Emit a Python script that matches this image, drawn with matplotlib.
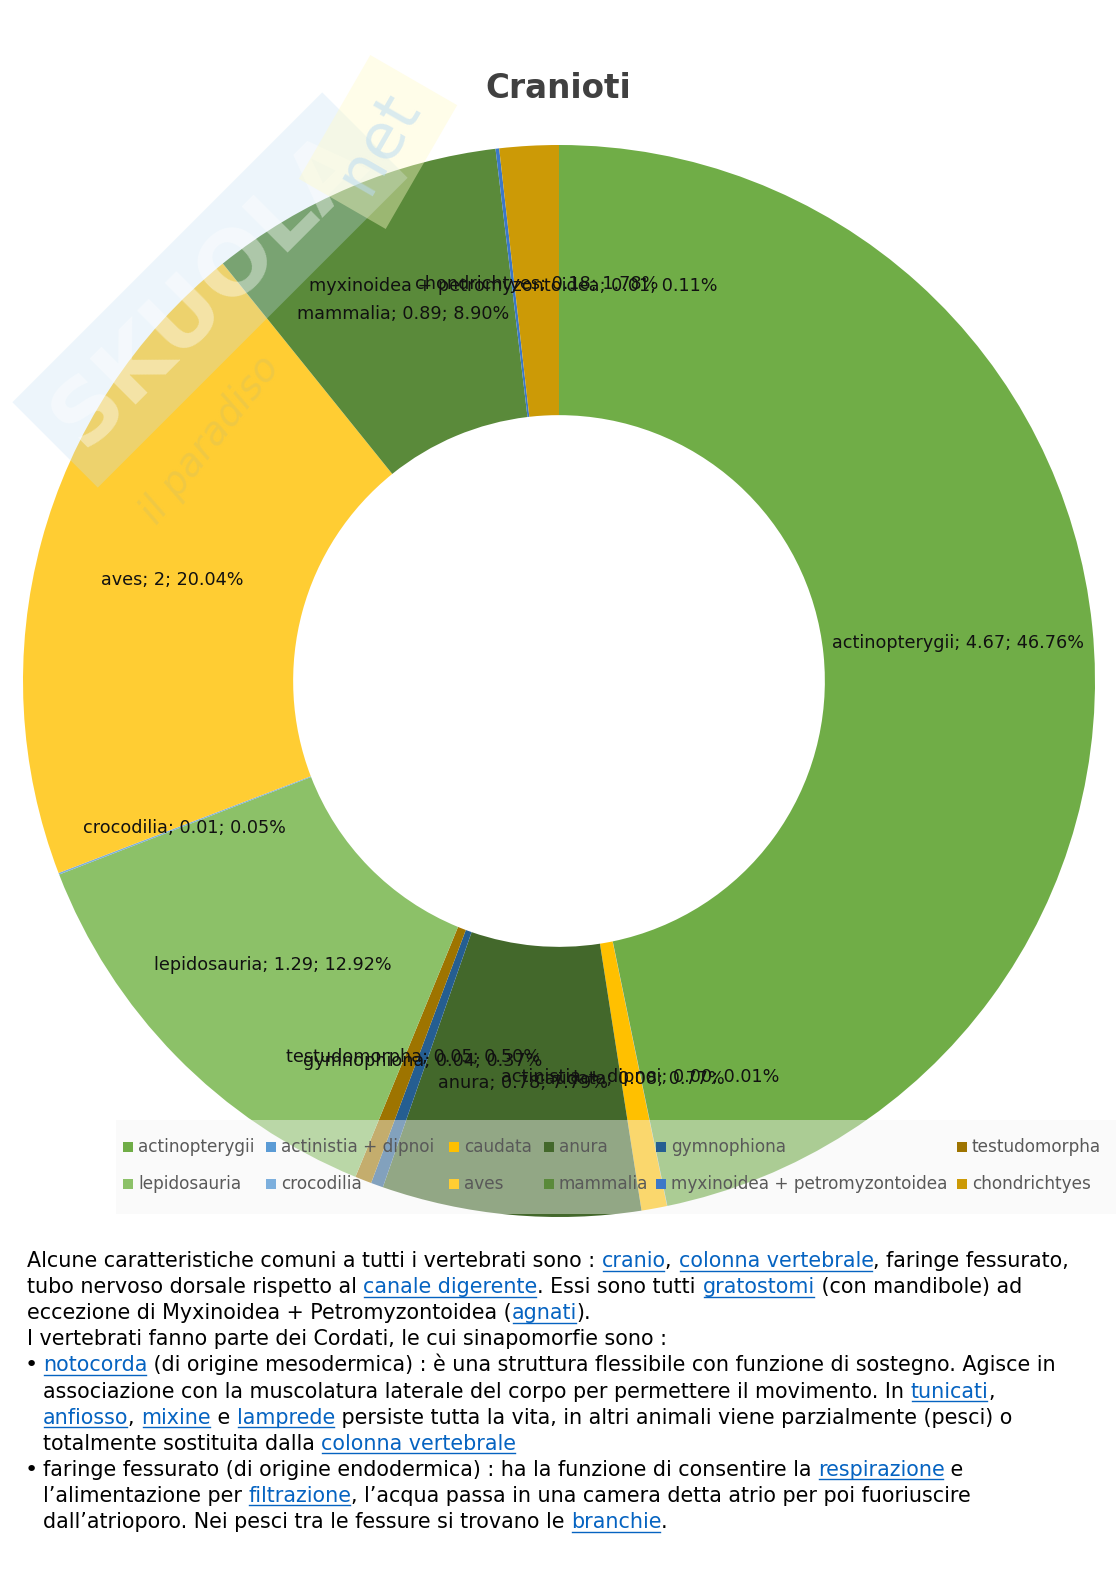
import re
import matplotlib
matplotlib.use("Agg")
import matplotlib.pyplot as plt
from matplotlib.patches import Rectangle
from matplotlib.lines import Line2D
from matplotlib.transforms import offset_copy
import numpy as np

W, H = 1116, 1579

categories = ["actinopterygii", "actinistia + dipnoi", "caudata", "anura", "gymnophiona",
              "testudomorpha", "lepidosauria", "crocodilia", "aves", "mammalia",
              "myxinoidea + petromyzontoidea", "chondrichtyes"]
value_text = ["4.67", "0.00", "0.08", "0.78", "0.04", "0.05", "1.29", "0.01", "2",
              "0.89", "0.01", "0.18"]
percents = [46.76, 0.01, 0.77, 7.79, 0.37, 0.50, 12.92, 0.05, 20.04, 8.90, 0.11, 1.78]
colors = ["#70AD47", "#5B9BD5", "#FFC000", "#43682B", "#255E91", "#9E7400",
          "#8CC168", "#7CAFDD", "#FFCD33", "#5A8A3A", "#3C78C8", "#CC9A06"]

body_lines = [
    "Alcune caratteristiche comuni a tutti i vertebrati sono : [cranio], [colonna vertebrale], faringe fessurato,",
    "tubo nervoso dorsale rispetto al [canale digerente]. Essi sono tutti [gratostomi] (con mandibole) ad",
    "eccezione di Myxinoidea + Petromyzontoidea ([agnati]).",
    "I vertebrati fanno parte dei Cordati, le cui sinapomorfie sono :",
    "\u2022 [notocorda] (di origine mesodermica) : è una struttura flessibile con funzione di sostegno. Agisce in",
    "associazione con la muscolatura laterale del corpo per permettere il movimento. In [tunicati],",
    "[anfiosso], [mixine] e [lamprede] persiste tutta la vita, in altri animali viene parzialmente (pesci) o",
    "totalmente sostituita dalla [colonna vertebrale]",
    "\u2022 faringe fessurato (di origine endodermica) : ha la funzione di consentire la [respirazione] e",
    "l\u2019alimentazione per [filtrazione], l\u2019acqua passa in una camera detta atrio per poi fuoriuscire",
    "dall\u2019atrioporo. Nei pesci tra le fessure si trovano le [branchie].",
]
line_indent = [27, 27, 27, 27, 43, 43, 43, 43, 43, 43, 43]


def fx(x):
    return x / W


def fy(y):
    return 1 - y / H


fig = plt.figure(figsize=(W / 100, H / 100), dpi=100)
fig.patch.set_facecolor("white")

# donut
cx, cy, R = 559, 681, 536
ax = fig.add_axes([fx(cx - R), fy(cy + R), 2 * R / W, 2 * R / H])
wedges, _ = ax.pie(percents, colors=colors, startangle=90, counterclock=False, radius=1,
                   wedgeprops=dict(width=0.504, linewidth=0))
ax.set_xlim(-1, 1)
ax.set_ylim(-1, 1)
ax.axis("off")

# data labels sit in the middle of the ring, a touch below centre like Excel
label_tr = offset_copy(ax.transData, fig=fig, x=0, y=-3, units="dots")
r_mid = 1 - 0.504 / 2
for w, name, v, p in zip(wedges, categories, value_text, percents):
    ang = np.deg2rad((w.theta1 + w.theta2) / 2)
    ax.text(r_mid * np.cos(ang), r_mid * np.sin(ang), f"{name}; {v}; {p:.2f}%",
            ha="center", va="center", fontsize=12.7, color="#111111", zorder=5,
            transform=label_tr)

fig.text(fx(558), fy(89), "Cranioti", ha="center", va="center", fontsize=23.5,
         fontweight="bold", color="#404040")

# legend box (semi transparent, over the donut)
fig.add_artist(Rectangle((fx(116), fy(1214)), (1116 - 116) / W, (1214 - 1120) / H,
                         transform=fig.transFigure, facecolor="#f4f4f4", alpha=0.45,
                         edgecolor="none", zorder=5))
col_x = [123, 266, 449, 544, 656, 957]
row_y = [1147, 1184]
for i, (name, c) in enumerate(zip(categories, colors)):
    x0 = col_x[i % 6]
    y0 = row_y[i // 6]
    fig.add_artist(Rectangle((fx(x0), fy(y0 + 5)), 10 / W, 10 / H, transform=fig.transFigure,
                             facecolor=c, edgecolor="none", zorder=6))
    fig.text(fx(x0 + 15), fy(y0), name, ha="left", va="center", fontsize=12.2,
             color="#595959", zorder=6)

# watermark
fig.text(fx(210), fy(290), "SKUOLA", rotation=45, ha="center", va="center", fontsize=64,
         fontweight="bold", color="white", alpha=0.4, zorder=7,
         bbox=dict(facecolor="#c4e0f5", edgecolor="none", alpha=0.3, pad=12))
fig.text(fx(378), fy(142), "net", rotation=60, ha="center", va="center", fontsize=46,
         color="#bcdcf3", alpha=0.55, zorder=7,
         bbox=dict(facecolor="#fffbc8", edgecolor="none", alpha=0.4, pad=14))
fig.text(fx(210), fy(440), "il paradiso", rotation=52, ha="center", va="center", fontsize=28,
         style="italic", color="#e0c455", alpha=0.5, zorder=7)

# body text with links
fig.canvas.draw()
renderer = fig.canvas.get_renderer()
body_kw = dict(fontsize=14.9)


def text_width(s):
    t = fig.text(0, 0, s + "x", **body_kw)
    w1 = t.get_window_extent(renderer).width
    t.set_text("x")
    w2 = t.get_window_extent(renderer).width
    t.remove()
    return w1 - w2


link_color = "#0563C1"
for i, (line, x0) in enumerate(zip(body_lines, line_indent)):
    base = 1267 + i * 26.1
    if line.startswith("\u2022 "):
        fig.text(fx(25), fy(base), "\u2022", va="baseline", ha="left", color="black",
                 fontsize=16)
        line = line[2:]
    prefix = ""
    for part in re.split(r"(\[[^\]]*\])", line):
        if not part:
            continue
        link = part.startswith("[")
        s = part[1:-1] if link else part
        xs = x0 + text_width(prefix)
        fig.text(fx(xs), fy(base), s, va="baseline", ha="left",
                 color=link_color if link else "black", **body_kw)
        if link:
            xe = xs + text_width(s)
            fig.add_artist(Line2D([fx(xs + 1), fx(xe - 1)], [fy(base + 3.5), fy(base + 3.5)],
                                  transform=fig.transFigure, color=link_color, lw=1))
        prefix += s

fig.savefig("out.png", dpi=100, facecolor="white")
